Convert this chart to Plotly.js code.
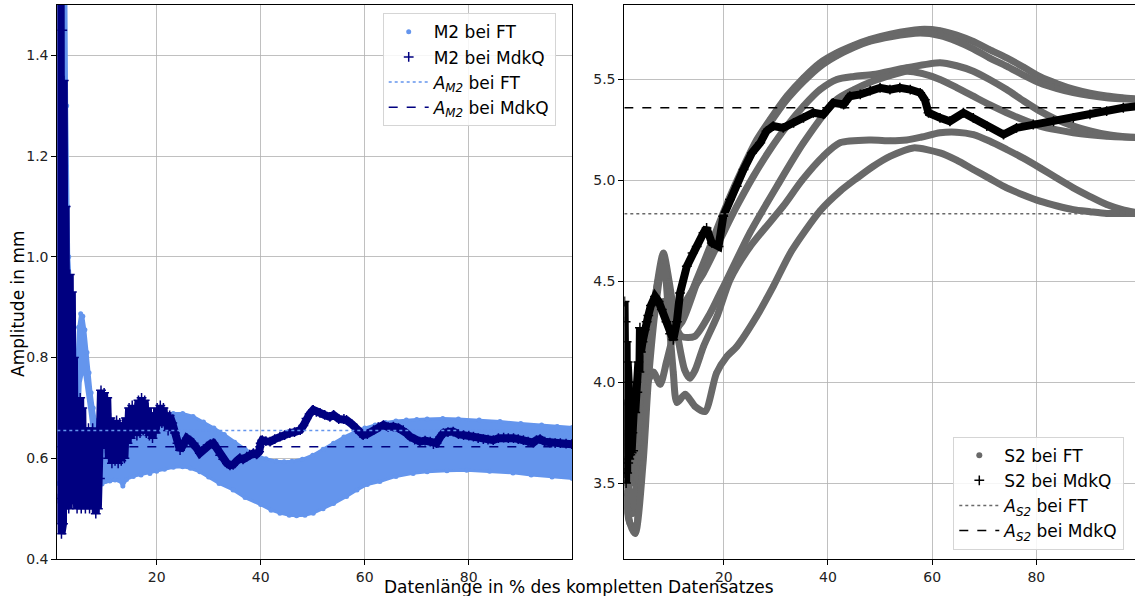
<!DOCTYPE html>
<html><head><meta charset="utf-8">
<script src="https://cdn.plot.ly/plotly-3.0.1.min.js"></script>
<style>html,body{margin:0;padding:0;overflow:hidden;background:#fff}#plot{width:1142px;height:596px}</style>
</head><body><div id="plot"></div>
<script>
// ---------- LEFT PANEL: M2 ----------
// FT band envelopes
const m2FtUpX = [0.9,2.5,2.7,2.9,3.1,3.4,3.8,4.1,4.4,4.7,5.0,5.4,5.8,6.2,6.6,7.0,7.4,7.8,8.2,8.6,9.0,9.5,12,15,18,21,23.2,25,27,29,31,33,35,37,39,41,43,44.5,46,48,50,52,54,56,58,60,62,64,66,68,70,72,75,78,82,86,90,94,97,99.9];
const m2FtUpY = [1.6,1.6,1.3,1.1,1.0,0.95,0.88,0.8,0.75,0.8,0.86,0.887,0.882,0.855,0.81,0.77,0.73,0.7,0.675,0.66,0.655,0.655,0.66,0.67,0.678,0.685,0.689,0.689,0.683,0.672,0.66,0.647,0.632,0.618,0.607,0.599,0.594,0.593,0.594,0.598,0.606,0.618,0.63,0.642,0.652,0.66,0.666,0.671,0.674,0.676,0.677,0.678,0.679,0.678,0.676,0.673,0.669,0.666,0.663,0.661];
const m2FtLoX = [0.9,3,5,7,8.5,9.0,9.5,10.2,11,12,12.8,13.5,14.2,15.5,17,18.7,20,21.5,23.2,25,26.5,28.3,30,32,34.7,37,40,42,43.7,45.5,46.9,48.5,50.1,52,54,56.5,58.5,60.5,62.9,66,69.3,72,75.8,79.6,84,88.5,92,96,99.9];
const m2FtLoY = [0.55,0.55,0.55,0.55,0.55,0.55,0.549,0.554,0.555,0.557,0.556,0.545,0.558,0.564,0.567,0.570,0.574,0.578,0.582,0.583,0.58,0.573,0.563,0.55,0.537,0.522,0.508,0.497,0.491,0.487,0.486,0.487,0.491,0.5,0.51,0.524,0.537,0.548,0.554,0.564,0.57,0.573,0.575,0.576,0.574,0.571,0.567,0.563,0.56];
// inner gap of the FT band near x=6
const m2FtGapX = [5.3,5.6,5.9,6.3,6.8,7.3,7.6];
const m2FtGapTop = [0.66,0.75,0.765,0.74,0.70,0.66,0.62];
const m2FtGapBot = [0.64,0.64,0.64,0.64,0.64,0.64,0.62];

// MdkQ series (three stretches)
const m2MdkqX1 = [0.95,1.1,1.25,1.4,1.55,1.7,1.85,2.0,2.15,2.3,2.5,2.7,2.9,3.1,3.3,3.5,3.7,3.9,4.1,4.3,4.5,4.7,4.9,5.1,5.3,5.5,5.7,5.9,6.1,6.3,6.5,6.7,6.9,7.1,7.3,7.5,7.7,7.9,8.1,8.3,8.5,8.7,8.9,9.1];
const m2MdkqY1 = [1.52,0.52,1.52,0.47,1.52,0.45,1.45,0.47,1.35,0.5,1.1,0.52,0.96,0.5,0.965,0.51,0.93,0.52,0.8,0.51,0.7,0.5,0.68,0.52,0.72,0.5,0.7,0.52,0.66,0.5,0.64,0.52,0.66,0.5,0.62,0.52,0.66,0.5,0.63,0.49,0.65,0.5,0.6,0.56];
const m2MdkqX2 = [9.3,9.6,9.9,10.2,10.5,10.8,11.1,11.4,11.7,12.0,12.3,12.6,12.9,13.2,13.5,13.8,14.1,14.4,14.7,15.0,15.3,15.6,15.9,16.2,16.5,16.8,17.1,17.4,17.7,18.0,18.3,18.6,18.9,19.2,19.5,19.8,20.1,20.4,20.7,21.0,21.3,21.6,21.9,22.2,22.5];
const m2MdkqY2 = [0.735,0.64,0.73,0.62,0.72,0.6,0.68,0.59,0.67,0.595,0.675,0.59,0.67,0.595,0.67,0.6,0.68,0.63,0.7,0.64,0.705,0.65,0.7,0.645,0.715,0.65,0.72,0.655,0.715,0.65,0.7,0.645,0.69,0.64,0.69,0.65,0.7,0.665,0.705,0.67,0.7,0.665,0.69,0.655,0.685];
const m2MdkqX3 = [23.0,23.5,24.0,24.5,25.0,25.8,26.5,27.1,27.7,28.3,29.0,29.6,30.3,30.9,31.5,32.2,32.8,33.5,34.1,34.7,35.4,36.0,36.6,37.3,37.9,38.6,39.2,39.7,40.0,40.3,41.0,41.8,42.7,43.7,44.6,45.6,46.5,47.6,48.2,48.8,49.4,50.1,50.7,51.4,52.3,53.3,54.0,55.0,56.0,56.5,57.5,58.5,59.1,59.7,60.5,61.7,62.6,63.6,64.5,65.5,66.5,67.4,68.0,68.7,69.6,70.6,71.6,72.6,73.2,73.8,74.5,75.1,76.0,77.0,78.0,79.0,80.0,80.9,81.8,82.8,83.7,84.7,85.7,86.7,87.6,88.6,89.5,90.5,91.4,92.4,93.0,93.7,94.6,95.6,96.6,97.6,98.7,99.8];
const m2MdkqY3 = [0.67,0.65,0.63,0.616,0.625,0.64,0.635,0.63,0.62,0.61,0.618,0.623,0.628,0.63,0.62,0.606,0.598,0.59,0.586,0.587,0.595,0.6,0.598,0.603,0.607,0.61,0.608,0.613,0.63,0.636,0.634,0.633,0.638,0.643,0.646,0.65,0.652,0.656,0.665,0.679,0.688,0.696,0.692,0.69,0.686,0.682,0.686,0.678,0.678,0.676,0.668,0.659,0.65,0.646,0.648,0.656,0.662,0.666,0.662,0.663,0.66,0.656,0.65,0.643,0.637,0.633,0.635,0.633,0.628,0.63,0.642,0.65,0.652,0.653,0.648,0.646,0.645,0.643,0.64,0.638,0.637,0.636,0.64,0.641,0.64,0.64,0.638,0.636,0.633,0.631,0.636,0.638,0.633,0.631,0.63,0.63,0.629,0.628];

const m2MeanFT = 0.655;
const m2MeanMdkQ = 0.623;

// ---------- RIGHT PANEL: S2 ----------
const s2FtAx = [1.0,2.0,3.0,4.0,5.5,6.8,8.5,10.3,12.0,14.8,17.4,19.9,21.2,23.8,26.3,28.9,32.1,35.3,38.5,41.7,45.0,48.1,52.0,57.7,61.5,64.7,67.9,71.0,74.3,77.5,80.7,84.0,87.1,90.3,93.5,96.5,99.5];
const s2FtAy = [3.62,3.55,3.6,3.85,4.2,4.41,4.34,4.22,4.33,4.508,4.674,4.839,4.921,5.07,5.2,5.302,5.417,5.508,5.583,5.632,5.67,5.699,5.725,5.748,5.742,5.72,5.688,5.648,5.607,5.562,5.514,5.479,5.452,5.432,5.418,5.41,5.404];
const s2FtA2y = [3.45,3.3,3.28,3.6,4.05,4.36,4.4,4.26,4.3,4.49,4.66,4.82,4.9,5.05,5.18,5.285,5.4,5.49,5.565,5.618,5.66,5.69,5.712,5.73,5.718,5.69,5.652,5.607,5.566,5.522,5.482,5.455,5.435,5.42,5.409,5.404,5.4];
const s2FtBx = [1.0,2.0,3.0,4.0,5.9,6.5,7.8,9.0,10.5,12.9,16.1,19.3,22.5,25.7,28.9,32.1,35.3,38.5,41.7,45.0,48.7,55.1,61.5,64.7,67.9,71.0,74.3,77.5,80.7,84.0,87.1,90.3,93.5,96.5,99.5];
const s2FtBy = [3.75,3.6,3.7,3.9,4.03,4.05,3.99,4.1,4.25,4.409,4.541,4.707,4.872,5.021,5.153,5.269,5.368,5.45,5.5,5.515,5.525,5.558,5.583,5.568,5.541,5.5,5.45,5.395,5.343,5.3,5.269,5.245,5.227,5.217,5.211];
const s2FtCx = [1.0,2.5,4.0,5.5,7.0,8.4,9.5,10.5,11.9,14.4,17.4,19.3,20.6,25.0,30.2,35.3,41.7,45.0,48.7,52.0,55.1,58.0,61.5,64.7,67.9,71.0,74.3,77.5,80.7,84.0,87.1,90.3,93.5,96.5,99.5];
const s2FtCy = [3.9,3.5,3.8,4.15,4.45,4.6,4.45,4.3,4.227,4.227,4.343,4.442,4.508,4.74,4.971,5.186,5.401,5.45,5.492,5.52,5.541,5.53,5.5,5.46,5.417,5.375,5.335,5.3,5.269,5.25,5.236,5.226,5.219,5.215,5.214];
const s2FtDx = [1.0,2.5,4.0,5.5,7.0,8.4,9.5,11.0,12.5,13.5,14.5,16.1,18.7,21.2,25.0,31.4,35.0,39.1,42.3,48.1,52.0,55.1,58.0,61.5,64.7,67.9,71.0,74.3,77.5,80.7,84.0,87.1,90.3,93.5,96.5,99.5];
const s2FtDy = [3.7,3.35,3.7,4.1,4.45,4.64,4.5,4.25,4.06,4.02,4.06,4.177,4.326,4.508,4.67,4.872,5.0,5.12,5.186,5.2,5.196,5.2,5.215,5.236,5.239,5.227,5.195,5.153,5.11,5.062,5.01,4.963,4.92,4.88,4.855,4.839];
const s2FtEx = [1.0,2.0,3.0,4.5,5.5,6.8,8.4,9.5,10.3,11.0,12.6,14.5,16.4,18.6,20.6,22.5,26.3,29.5,33.0,38.5,42.3,45.5,48.7,52.0,56.4,61.5,64.7,67.9,71.0,74.3,77.5,80.7,84.0,87.1,90.3,93.5,96.5,99.5];
const s2FtEy = [3.5,3.3,3.25,3.6,4.0,4.35,4.62,4.3,4.05,3.9,3.94,3.88,3.855,4.045,4.128,4.177,4.326,4.475,4.65,4.85,4.946,5.01,5.07,5.12,5.161,5.136,5.1,5.054,5.01,4.963,4.928,4.897,4.873,4.855,4.845,4.836,4.836,4.836];

const s2MdkqX = [0.95,1.05,1.15,1.25,1.35,1.45,1.55,1.65,1.75,1.85,1.95,2.05,2.15,2.3,2.45,2.6,2.8,3.0,3.2,3.4,3.6,3.8,3.9,4.1,4.4,4.8,5.2,5.5,6.0,6.8,7.5,8.1,9.0,9.7,10.3,11.0,11.6,12.9,14.0,14.8,16.1,16.7,17.7,19.0,19.9,21.2,22.5,23.8,25.4,27.0,28.2,29.5,31.4,33.4,35.3,37.2,39.1,41.0,43.0,44.2,46.2,48.1,50.0,51.9,53.8,55.8,57.7,58.6,59.3,61.5,63.4,66.0,67.9,70.5,73.7,76.2,79.4,83.3,87.1,90.3,93.5,96.7,99.5];
const s2MdkqY = [4.4,3.55,4.3,3.5,4.2,3.55,4.1,3.6,4.0,3.62,3.9,3.64,3.8,3.65,3.75,3.66,3.9,3.85,4.0,3.95,4.1,4.05,4.27,4.15,4.2,4.26,4.3,4.33,4.38,4.425,4.4,4.36,4.3,4.24,4.21,4.3,4.442,4.574,4.64,4.673,4.74,4.764,4.69,4.673,4.822,4.905,4.971,5.054,5.136,5.186,5.244,5.269,5.26,5.285,5.31,5.335,5.327,5.384,5.376,5.417,5.426,5.445,5.459,5.45,5.459,5.45,5.434,5.4,5.335,5.31,5.293,5.335,5.31,5.269,5.227,5.26,5.277,5.293,5.31,5.327,5.343,5.36,5.368];

const s2MeanFT = 4.835;
const s2MeanMdkQ = 5.36;

const xRange = [0.9, 99.9];
const xTicks = [20, 40, 60, 80];
const yTicksLeft = [0.4, 0.6, 0.8, 1.0, 1.2, 1.4];
const yTicksRight = [3.5, 4.0, 4.5, 5.0, 5.5];

// ---------- build ----------
const W = 1142, H = 596;
const fx = v => v / W, fy = v => 1 - v / H;
const FT1 = '#6495ED', MQ1 = '#000080', FT2 = '#696969', MQ2 = '#000000';
const FONT = 'DejaVu Sans, Liberation Sans, sans-serif';

const m2MdkqX = m2MdkqX1.concat(m2MdkqX2, m2MdkqX3);
const m2MdkqY = m2MdkqY1.concat(m2MdkqY2, m2MdkqY3);

const traces = [];
// left band
traces.push({x: m2FtUpX.concat(m2FtLoX.slice().reverse()), y: m2FtUpY.concat(m2FtLoY.slice().reverse()),
  mode:'lines', fill:'toself', fillcolor:FT1, line:{width:3,color:FT1}, showlegend:false, hoverinfo:'skip', xaxis:'x', yaxis:'y'});
traces.push({x: m2FtGapX.concat(m2FtGapX.slice().reverse()), y: m2FtGapTop.concat(m2FtGapBot.slice().reverse()),
  mode:'lines', fill:'toself', fillcolor:'#ffffff', line:{width:0,color:'#ffffff'}, showlegend:false, hoverinfo:'skip', xaxis:'x', yaxis:'y'});
traces.push({x: m2FtUpX.concat(m2FtLoX), y: m2FtUpY.concat(m2FtLoY), mode:'markers', name:'M2 bei FT',
  marker:{color:FT1, size:5}, legend:'legend', legendgroup:'a', legendrank:1, xaxis:'x', yaxis:'y'});
traces.push({x: m2MdkqX, y: m2MdkqY, mode:'lines', line:{color:MQ1, width:8}, showlegend:false, hoverinfo:'skip', xaxis:'x', yaxis:'y'});
traces.push({x: m2MdkqX, y: m2MdkqY, mode:'markers', name:'M2 bei MdkQ',
  marker:{symbol:'cross-thin', size:7, color:MQ1, line:{color:MQ1, width:1.5}}, legend:'legend', legendgroup:'b', legendrank:2, xaxis:'x', yaxis:'y'});
traces.push({x: xRange, y: [m2MeanFT, m2MeanFT], mode:'lines', name:'<i>A</i><sub><i>M2</i></sub> bei FT',
  line:{color:FT1, width:1.5, dash:'dot'}, legend:'legend', legendgroup:'c', legendrank:3, xaxis:'x', yaxis:'y'});
traces.push({x: xRange, y: [m2MeanMdkQ, m2MeanMdkQ], mode:'lines', name:'<i>A</i><sub><i>M2</i></sub> bei MdkQ',
  line:{color:MQ1, width:1.5, dash:'dash'}, legend:'legend', legendgroup:'d', legendrank:4, xaxis:'x', yaxis:'y'});

// right strands
const strands = [[s2FtAx,s2FtAy],[s2FtAx,s2FtA2y],[s2FtBx,s2FtBy],[s2FtCx,s2FtCy],[s2FtDx,s2FtDy],[s2FtEx,s2FtEy]];
let allX = [], allY = [];
strands.forEach(s => {
  traces.push({x:s[0], y:s[1], mode:'lines', line:{color:FT2, width:7, shape:'spline', smoothing:0.7}, showlegend:false, hoverinfo:'skip', xaxis:'x2', yaxis:'y2'});
  allX = allX.concat(s[0]); allY = allY.concat(s[1]);
});
traces.push({x:allX, y:allY, mode:'markers', name:'S2 bei FT', marker:{color:FT2, size:6}, legend:'legend2', legendgroup:'e', legendrank:1, xaxis:'x2', yaxis:'y2'});
traces.push({x:s2MdkqX, y:s2MdkqY, mode:'lines', line:{color:MQ2, width:8}, showlegend:false, hoverinfo:'skip', xaxis:'x2', yaxis:'y2'});
traces.push({x:s2MdkqX, y:s2MdkqY, mode:'markers', name:'S2 bei MdkQ',
  marker:{symbol:'cross-thin', size:7, color:MQ2, line:{color:MQ2, width:1.5}}, legend:'legend2', legendgroup:'f', legendrank:2, xaxis:'x2', yaxis:'y2'});
traces.push({x: xRange, y: [s2MeanFT, s2MeanFT], mode:'lines', name:'<i>A</i><sub><i>S2</i></sub> bei FT',
  line:{color:FT2, width:1.5, dash:'dot'}, legend:'legend2', legendgroup:'g', legendrank:3, xaxis:'x2', yaxis:'y2'});
traces.push({x: xRange, y: [s2MeanMdkQ, s2MeanMdkQ], mode:'lines', name:'<i>A</i><sub><i>S2</i></sub> bei MdkQ',
  line:{color:MQ2, width:1.5, dash:'dash'}, legend:'legend2', legendgroup:'h', legendrank:4, xaxis:'x2', yaxis:'y2'});

const axBase = {showgrid:true, gridcolor:'#b0b0b0', gridwidth:0.8, showline:true, linecolor:'#000', linewidth:1, mirror:true,
  ticks:'outside', ticklen:5, tickwidth:1, tickcolor:'#000', zeroline:false, tickfont:{family:FONT, size:14, color:'#222'}};
const legBase = {font:{family:FONT, size:17, color:'#000'}, bgcolor:'rgba(255,255,255,0.85)', bordercolor:'#d5d5d5', borderwidth:1,
  xanchor:'left', yanchor:'top', tracegroupgap:0, traceorder:'grouped', itemwidth:40};

const layout = {
  width: W, height: H, margin:{l:0, r:0, t:0, b:0}, paper_bgcolor:'#fff', plot_bgcolor:'#fff',
  font:{family:FONT, color:'#000'},
  xaxis: Object.assign({}, axBase, {domain:[fx(57.3), fx(572.3)], range:xRange, tickvals:xTicks, anchor:'y'}),
  yaxis: Object.assign({}, axBase, {domain:[fy(559), fy(5)], range:[0.4, 1.5], tickvals:yTicksLeft, tickformat:'.1f', anchor:'x'}),
  xaxis2: Object.assign({}, axBase, {domain:[fx(624.3), fx(1140)], range:xRange, tickvals:xTicks, anchor:'y2'}),
  yaxis2: Object.assign({}, axBase, {domain:[fy(559), fy(5)], range:[3.124, 5.869], tickvals:yTicksRight, tickformat:'.1f', anchor:'x2'}),
  legend: Object.assign({}, legBase, {x: fx(382.7), y: fy(13.3)}),
  legend2: Object.assign({}, legBase, {x: fx(953.3), y: fy(436.7)}),
  annotations: [
    {text:'Amplitude in mm', xref:'paper', yref:'paper', x:fx(18), y:fy(304), textangle:-90, showarrow:false,
     font:{family:FONT, size:17, color:'#000'}, xanchor:'center', yanchor:'middle'},
    {text:'Datenlänge in % des kompletten Datensatzes', xref:'paper', yref:'paper', x:fx(578.5), y:fy(587), showarrow:false,
     font:{family:FONT, size:17, color:'#000'}, xanchor:'center', yanchor:'middle'}
  ],
  showlegend: true
};
Plotly.newPlot('plot', traces, layout, {staticPlot:true, displayModeBar:false});
</script></body></html>
